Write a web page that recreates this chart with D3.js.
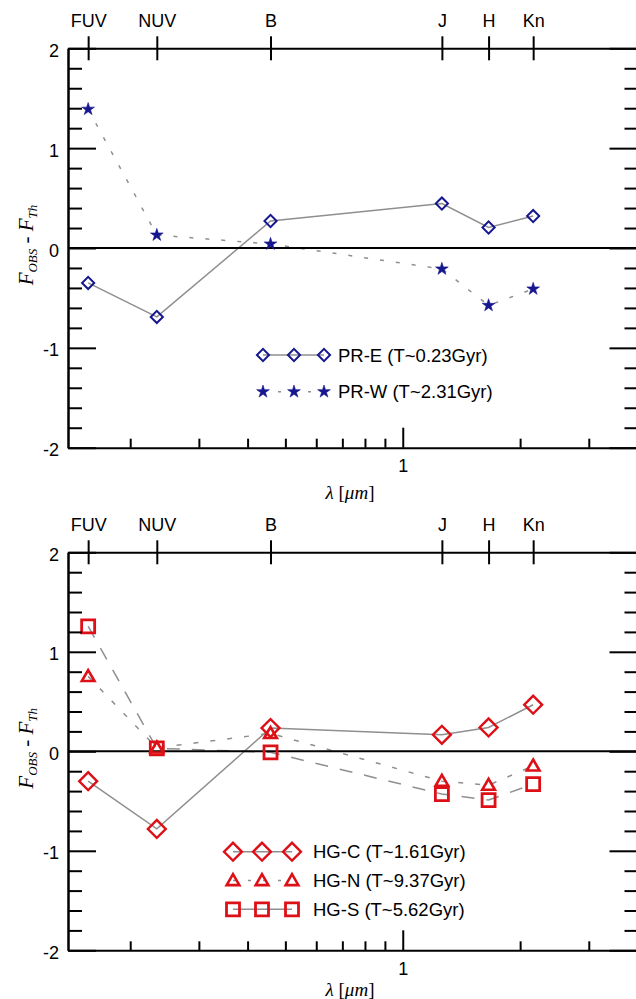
<!DOCTYPE html>
<html>
<head>
<meta charset="utf-8">
<script src="https://cdn.jsdelivr.net/npm/d3@7"></script>
<style>
  html, body { margin: 0; padding: 0; background: #fff; }
  svg { display: block; }
</style>
</head>
<body>
<svg id="chart" width="636" height="999"></svg>
<script>
// ---- data ----
const bands = ["FUV", "NUV", "B", "J", "H", "Kn"];
const wavelengths = [0.156, 0.234, 0.458, 1.26, 1.66, 2.16];

const prE = [-0.35, -0.69, 0.27, 0.445, 0.205, 0.32];
const prW = [1.39, 0.13, 0.04, -0.21, -0.575, -0.41];

const hgC = [-0.30, -0.78, 0.233, 0.166, 0.24, 0.468];
const hgN = [0.753, 0.035, 0.18, -0.30, -0.34, -0.146];
const hgS = [1.256, 0.03, -0.01, -0.43, -0.49, -0.33];

const yMajorTicks = [-2, -1, 0, 1, 2];
const yMinorTicks = [-1.8, -1.6, -1.4, -1.2, -0.8, -0.6, -0.4, -0.2, 0.2, 0.4, 0.6, 0.8, 1.2, 1.4, 1.6, 1.8];
const xMinorTicks = [0.2, 0.3, 0.4, 0.5, 0.6, 0.7, 0.8, 0.9, 2, 3];
const xMajorTicks = [1];

const legendTop = ["PR-E (T~0.23Gyr)", "PR-W (T~2.31Gyr)"];
const legendBottom = ["HG-C (T~1.61Gyr)", "HG-N (T~9.37Gyr)", "HG-S (T~5.62Gyr)"];

// ---- styles ----
const NAVY = "#16168f";
const RED = "#dc1016";
const GRAY = "#8f8f8f";
const SANS = "'Liberation Sans', Arial, sans-serif";
const SERIF = "'Liberation Serif', 'Times New Roman', serif";

const svg = d3.select("#chart");
const x = d3.scaleLog().domain([0.1385, 4]).range([68, 637.5]);
const intFmt = d => String(d); // plain hyphen minus like the reference

function markerPath(type, size) {
  return d3.symbol().type(type).size(size)();
}

function drawMarker(g, kind, cx, cy, color) {
  if (kind === "diamondS") {
    g.append("path").attr("d", markerPath(d3.symbolSquare, 74))
      .attr("transform", `translate(${cx},${cy}) rotate(45)`)
      .attr("fill", "none").attr("stroke", color).attr("stroke-width", 2);
  } else if (kind === "star") {
    g.append("path").attr("d", markerPath(d3.symbolStar, 50))
      .attr("transform", `translate(${cx},${cy})`)
      .attr("fill", color).attr("stroke", color).attr("stroke-width", 0.6);
  } else if (kind === "diamondL") {
    g.append("path").attr("d", markerPath(d3.symbolSquare, 160))
      .attr("transform", `translate(${cx},${cy}) rotate(45)`)
      .attr("fill", "none").attr("stroke", color).attr("stroke-width", 2.4);
  } else if (kind === "triangle") {
    g.append("path").attr("d", markerPath(d3.symbolTriangle, 70))
      .attr("transform", `translate(${cx},${cy + 1})`)
      .attr("fill", "none").attr("stroke", color).attr("stroke-width", 2.6)
      .attr("stroke-linejoin", "miter");
  } else if (kind === "square") {
    g.append("path").attr("d", markerPath(d3.symbolSquare, 169))
      .attr("transform", `translate(${cx},${cy})`)
      .attr("fill", "none").attr("stroke", color).attr("stroke-width", 2.8);
  }
}

function drawPanel(top, bottom, series, legend, xLabelOffset) {
  const y = d3.scaleLinear().domain([-2, 2]).range([bottom, top]);
  const g = svg.append("g");

  // series lines
  series.forEach(s => {
    const line = d3.line().x((d, i) => x(wavelengths[i])).y(d => y(d));
    g.append("path").datum(s.values).attr("d", line)
      .attr("fill", "none").attr("stroke", GRAY).attr("stroke-width", 1.5)
      .attr("stroke-dasharray", s.dash || null);
  });

  // zero line
  g.append("line").attr("x1", x.range()[0]).attr("x2", x.range()[1])
    .attr("y1", y(0)).attr("y2", y(0)).attr("stroke", "#000").attr("stroke-width", 2);

  // markers
  series.forEach(s => {
    s.values.forEach((v, i) => drawMarker(g, s.marker, x(wavelengths[i]), y(v), s.color));
  });

  // bottom axis: minor ticks
  g.append("g").attr("transform", `translate(0,${bottom})`)
    .call(d3.axisBottom(x).tickValues(xMinorTicks).tickSizeInner(-9).tickSizeOuter(0).tickFormat(""));
  // bottom axis: major tick
  const axB2 = g.append("g").attr("transform", `translate(0,${bottom})`)
    .call(d3.axisBottom(x).tickValues(xMajorTicks).tickSizeInner(-20).tickSizeOuter(0)
      .tickPadding(12).tickFormat(intFmt));
  axB2.select(".domain").remove();

  // top axis with band labels
  const axT = g.append("g").attr("transform", `translate(0,${top})`)
    .call(d3.axisTop(x).tickValues(wavelengths).tickSizeInner(12).tickSizeOuter(0)
      .tickPadding(9).tickFormat((d, i) => bands[i]));
  axT.selectAll(".tick line").attr("y1", 12).attr("y2", -12);

  // left axis
  g.append("g").attr("transform", `translate(${x.range()[0]},0)`)
    .call(d3.axisLeft(y).tickValues(yMinorTicks).tickSizeInner(-14).tickSizeOuter(0).tickFormat(""));
  const axL2 = g.append("g").attr("transform", `translate(${x.range()[0]},0)`)
    .call(d3.axisLeft(y).tickValues(yMajorTicks).tickSizeInner(-28).tickSizeOuter(0)
      .tickPadding(9).tickFormat(intFmt));
  axL2.selectAll(".tick text").attr("dy", "0.45em");

  // right axis
  g.append("g").attr("transform", `translate(${x.range()[1]},0)`)
    .call(d3.axisRight(y).tickValues(yMinorTicks).tickSizeInner(-13).tickSizeOuter(0).tickFormat(""));
  g.append("g").attr("transform", `translate(${x.range()[1]},0)`)
    .call(d3.axisRight(y).tickValues(yMajorTicks).tickSizeInner(-28).tickSizeOuter(0).tickFormat(""));

  g.selectAll(".domain").attr("stroke", "#000").attr("stroke-width", 2);
  g.selectAll(".tick line").attr("stroke", "#000").attr("stroke-width", 2);
  g.selectAll(".tick text").style("font-family", SANS)
    .style("font-size", "18px").attr("fill", "#000");

  // x label
  const xl = g.append("text").attr("x", 350).attr("y", bottom + xLabelOffset)
    .attr("text-anchor", "middle")
    .style("font-family", SERIF).style("font-size", "19px").attr("fill", "#000");
  xl.append("tspan").style("font-style", "italic").text("λ ");
  xl.append("tspan").text("[");
  xl.append("tspan").style("font-style", "italic").text("μm");
  xl.append("tspan").text("]");

  // y label
  const yl = g.append("text")
    .attr("transform", `translate(33,${y(0) - 3}) rotate(-90)`)
    .attr("text-anchor", "middle")
    .style("font-family", SERIF).style("font-style", "italic").style("font-size", "21px")
    .attr("fill", "#000");
  yl.append("tspan").text("F");
  yl.append("tspan").style("font-size", "13px").attr("dy", 4).text("OBS");
  yl.append("tspan").attr("dy", -4).text(" - F");
  yl.append("tspan").style("font-size", "13px").attr("dy", 4).text("Th");

  // legend
  const lg = g.append("g");
  legend.rows.forEach((row, k) => {
    const ly = legend.y0 + k * legend.dy;
    const s = series[k];
    lg.append("line").attr("x1", legend.xs[0]).attr("x2", legend.xs[2])
      .attr("y1", ly).attr("y2", ly)
      .attr("stroke", GRAY).attr("stroke-width", 1.5)
      .attr("stroke-dasharray", s.legendDash || null);
    legend.xs.forEach(mx => drawMarker(lg, s.marker, mx, ly, s.color));
    lg.append("text").attr("x", legend.textX).attr("y", ly).attr("dy", "0.36em")
      .style("font-family", SANS).style("font-size", "18.5px").attr("fill", "#000").text(row);
  });
}

drawPanel(48.3, 447.7, [
  { values: prE, marker: "diamondS", color: NAVY, dash: null },
  { values: prW, marker: "star", color: NAVY, dash: "4,12", legendDash: "3,12" }
], { rows: legendTop, y0: 355, dy: 36.7, xs: [263, 294, 324], textX: 338 }, 51);

drawPanel(552.3, 950.3, [
  { values: hgC, marker: "diamondL", color: RED, dash: null },
  { values: hgN, marker: "triangle", color: RED, dash: "5,12", legendDash: "3,12" },
  { values: hgS, marker: "square", color: RED, dash: "13,12" }
], { rows: legendBottom, y0: 851.7, dy: 28.8, xs: [233, 262, 292], textX: 313 }, 46);
</script>
</body>
</html>
